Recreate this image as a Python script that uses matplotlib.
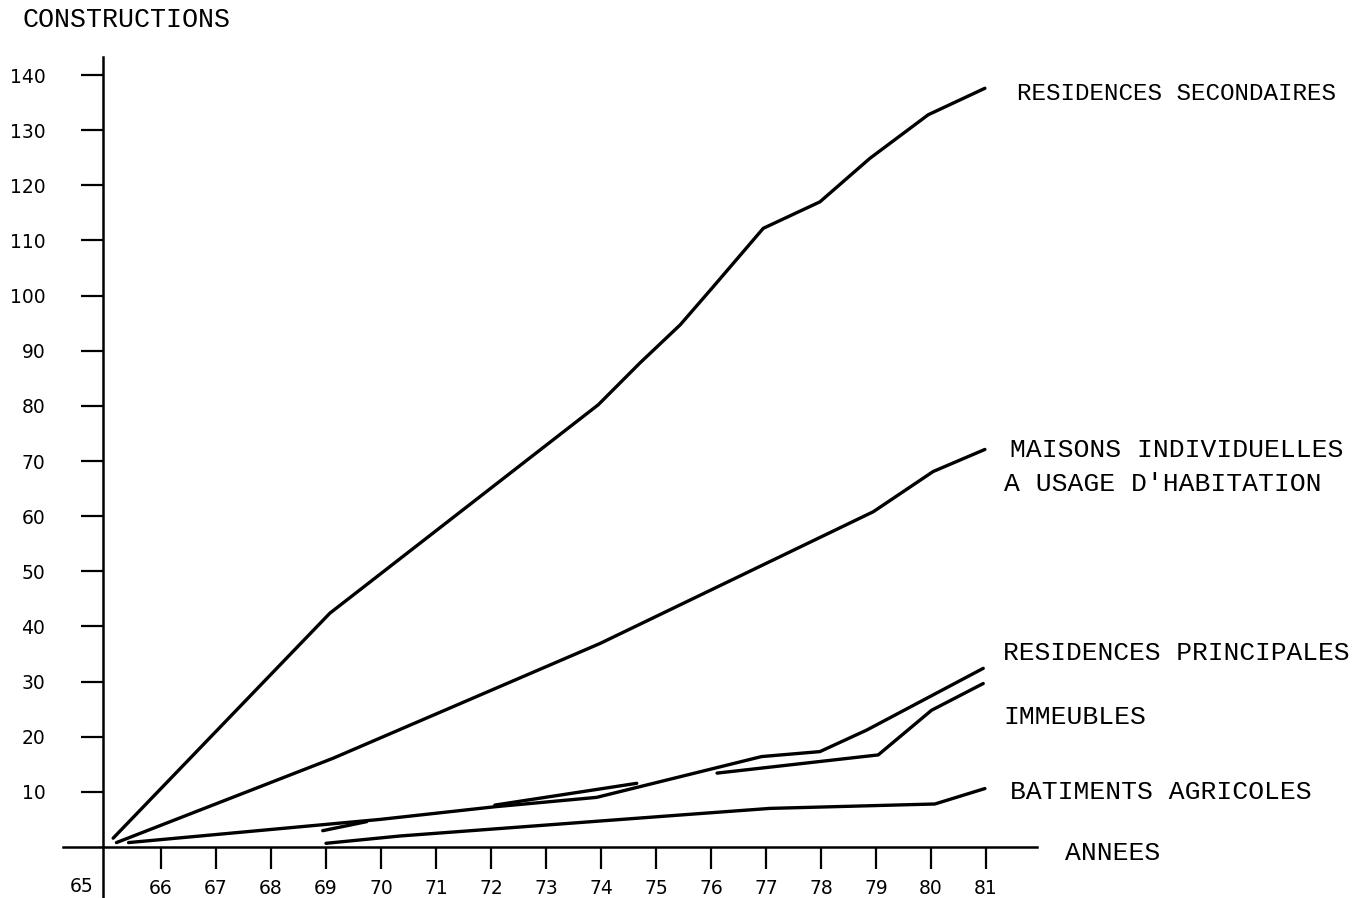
import numpy as np
import matplotlib
matplotlib.use("Agg")
import matplotlib.pyplot as plt

# ---- data ----
sec_x = [65.13, 69.07, 73.95, 74.71, 75.44, 76.04, 76.95, 77.98, 78.89, 79.95, 80.98]
sec_y = [1.6, 42.4, 80.2, 87.8, 94.7, 101.6, 112.2, 117.0, 124.9, 132.8, 137.6]

mai_x = [65.19, 69.13, 73.98, 78.95, 80.04, 80.98]
mai_y = [0.8, 16.1, 36.9, 60.8, 68.1, 72.1]

rp_x = [65.41, 69.98, 72.07, 73.92, 75.44, 76.92, 77.98, 78.83, 80.95]
rp_y = [0.8, 5.0, 7.3, 9.0, 12.75, 16.4, 17.3, 21.2, 32.4]

imm_seg1_x = [68.94, 69.74]
imm_seg1_y = [2.96, 4.6]
imm_seg2_x = [72.07, 74.65]
imm_seg2_y = [7.6, 11.55]
imm_seg3_x = [76.11, 79.04, 80.01, 80.95]
imm_seg3_y = [13.4, 16.7, 24.8, 29.65]

bat_x = [69.0, 70.35, 75.44, 77.07, 80.07, 80.98]
bat_y = [0.67, 2.0, 5.8, 7.0, 7.8, 10.6]

x_ticks = list(range(66, 82))
x_labels = [str(v) for v in x_ticks]
first_year_label = "65"
y_ticks = list(range(10, 150, 10))
y_labels = [str(v) for v in y_ticks]

# (text, left px, centre px, font size)
series_labels = [
    ("RESIDENCES SECONDAIRES", 1017, 93, 17.5),
    ("MAISONS INDIVIDUELLES", 1010, 450, 19),
    ("A USAGE D'HABITATION", 1004, 484, 19),
    ("RESIDENCES PRINCIPALES", 1003, 653, 18.9),
    ("IMMEUBLES", 1003, 717, 19),
    ("BATIMENTS AGRICOLES", 1010, 792, 19),
    ("ANNEES", 1065, 853, 19),
    ("CONSTRUCTIONS", 23, 20, 19.2),
]

# ---- figure ----
W, H = 1371, 898
fig = plt.figure(figsize=(W / 100, H / 100), dpi=100)
ax = fig.add_axes([0, 0, 1, 1])
ax.set_facecolor("white")

# pixel mapping: x 65 -> 106 px, 55 px/year ; y 0 -> 847 px, 5.514 px/unit
px_per_year = 55.0
x0_px = 106.0
px_per_unit = 5.514
y0_px = 847.0
ax.set_xlim(65 - x0_px / px_per_year, 65 + (W - x0_px) / px_per_year)
ax.set_ylim(-(H - y0_px) / px_per_unit, y0_px / px_per_unit)

lw = 2.4
kw = dict(color="black", lw=lw, solid_capstyle="round", solid_joinstyle="round")
ax.plot(sec_x, sec_y, **kw)
ax.plot(mai_x, mai_y, **kw)
ax.plot(rp_x, rp_y, **kw)
ax.plot(imm_seg1_x, imm_seg1_y, **kw)
ax.plot(imm_seg2_x, imm_seg2_y, **kw)
ax.plot(imm_seg3_x, imm_seg3_y, **kw)
ax.plot(bat_x, bat_y, **kw)

# spines as hand drawn axes
for s in ["top", "right"]:
    ax.spines[s].set_visible(False)
ax.spines["left"].set_position(("data", 65 - 3 / px_per_year))
ax.spines["left"].set_bounds(-(H - y0_px) / px_per_unit, (y0_px - 57) / px_per_unit)
ax.spines["bottom"].set_position(("data", 0))
ax.spines["bottom"].set_bounds(65 + (63 - x0_px) / px_per_year, 65 + (1037 - x0_px) / px_per_year)
for s in ["left", "bottom"]:
    ax.spines[s].set_linewidth(1.8)
    ax.spines[s].set_color("black")

ax.set_xticks(x_ticks)
ax.set_xticklabels(x_labels)
ax.set_yticks(y_ticks)
ax.set_yticklabels(y_labels)
ax.tick_params(axis="y", direction="out", length=15.5, width=1.6, pad=26,
               labelsize=13.5, colors="black")
ax.tick_params(axis="x", direction="out", length=16, width=1.6, pad=7,
               labelsize=13.5, colors="black")

# "65" label sits left of the vertical axis
ax.annotate(first_year_label, xy=(65, 0), xycoords=("data", "data"),
            xytext=(-9, -28.8), textcoords="offset points",
            ha="right", va="center", fontsize=13.5, family="DejaVu Sans")

for txt, xp, yp, fs in series_labels:
    fig.text(xp / W, 1 - yp / H, txt, ha="left", va="center",
             family="Liberation Mono", fontsize=fs, color="black")

fig.savefig("out.png", dpi=100, facecolor="white")
